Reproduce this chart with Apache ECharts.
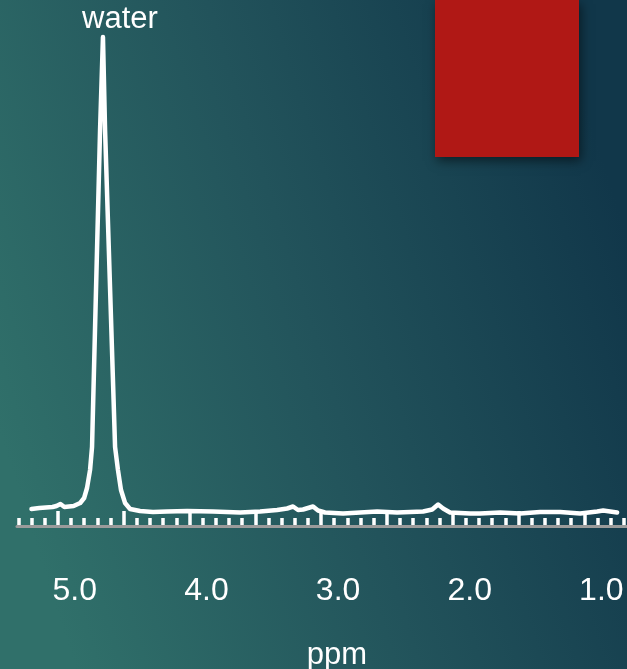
<!DOCTYPE html>
<html>
<head>
<meta charset="utf-8">
<script src="https://cdn.jsdelivr.net/npm/echarts@6/dist/echarts.min.js"></script>
<style>
html,body{margin:0;padding:0;}
#c{width:627px;height:669px;}
</style>
</head>
<body>
<div id="c"></div>
<script>
// chemical shift (ppm) and intensity of the trace
var ppm = [5.20,5.14,5.04,5.01,4.98,4.95,4.88,4.83,4.80,4.778,4.755,4.740,4.679,4.657,4.641,4.565,4.543,4.520,4.489,4.451,4.375,4.277,4.170,4.018,3.821,3.615,3.463,3.334,3.258,3.213,3.175,3.137,3.061,3.023,2.970,2.833,2.574,2.422,2.225,2.156,2.111,2.073,2.020,1.868,1.792,1.640,1.488,1.336,1.184,1.032,0.903,0.857,0.751];
var intensity = [3.5,3.7,3.9,4.1,4.5,3.9,4.1,4.7,5.7,7.7,11.3,15.9,79.3,97.9,79.3,15.9,11.3,7.3,4.7,3.5,3.1,2.9,3.0,3.1,3.0,2.8,3.0,3.3,3.6,4.0,3.3,3.4,4.0,3.2,2.8,2.6,3.0,2.8,3.0,3.4,4.4,3.6,2.8,2.6,2.6,2.8,2.6,2.9,2.9,2.6,3.0,3.2,2.8];
var peakLabel = 'water';
var peakIndex = 13;
var axisName = 'ppm';
var labelTicks = [5.0,4.0,3.0,2.0,1.0];
var majorTicks = [5.0,4.5,4.0,3.5,3.0,2.5,2.0,1.5,1.0];
var minorTicks = [5.3,5.2,5.1,5.0,4.9,4.8,4.7,4.6,4.5,4.4,4.3,4.2,4.1,4.0,3.9,3.8,3.7,3.6,3.5,3.4,3.3,3.2,3.1,3.0,2.9,2.8,2.7,2.6,2.5,2.4,2.3,2.2,2.1,2.0,1.9,1.8,1.7,1.6,1.5,1.4,1.3,1.2,1.1,1.0,0.9,0.8,0.7];
var xLow = 0.60, xHigh = 5.31;

var font = 'Liberation Sans, Arial, sans-serif';
var data = ppm.map(function(p, i){ return [p, intensity[i]]; });

var chart = echarts.init(document.getElementById('c'), null, {renderer:'canvas'});
function baseAxis(extra){
  return Object.assign({type:'value', min:xLow, max:xHigh, inverse:true, gridIndex:0,
    position:'bottom', splitLine:{show:false}}, extra);
}
chart.setOption({
  backgroundColor: new echarts.graphic.LinearGradient(0,0.65,1,0.35,[
    {offset:0,color:'#30706a'},{offset:0.5,color:'#22535b'},{offset:1,color:'#11374a'}]),
  animation:false,
  grid:{left:17, top:26.5, width:620, height:500, outerBoundsMode:'none', containLabel:false},
  xAxis:[
    baseAxis({
      axisLine:{show:true, lineStyle:{color:'#9b9b9b', width:3}},
      axisTick:{show:false},
      axisLabel:{show:true, customValues:labelTicks, color:'#ffffff', fontSize:32, fontFamily:font,
        margin:49, padding:[0,0,0,34], formatter:function(v){return Number(v).toFixed(1);}},
      name:axisName, nameLocation:'middle', nameGap:113,
      nameTextStyle:{color:'#ffffff', fontSize:31, fontFamily:font, padding:[0,0,0,20]}
    }),
    baseAxis({
      offset:-1.5,
      axisLine:{show:false},
      axisLabel:{show:false},
      axisTick:{show:true, inside:true, length:7, customValues:minorTicks, lineStyle:{color:'#ffffff', width:3.5}}
    }),
    baseAxis({
      offset:-1.5,
      axisLine:{show:false},
      axisLabel:{show:false},
      axisTick:{show:true, inside:true, length:14, customValues:majorTicks, lineStyle:{color:'#ffffff', width:3.5}}
    })
  ],
  yAxis:{type:'value', min:0, max:100, show:false, splitLine:{show:false}},
  series:[{
    type:'line', xAxisIndex:0, data:data, showSymbol:false, symbol:'none',
    lineStyle:{color:'#ffffff', width:4.5, join:'round', cap:'round'},
    clip:false, z:5,
    markPoint:{
      symbol:'circle', symbolSize:0, silent:true,
      data:[{coord:[ppm[peakIndex], intensity[peakIndex]], value:peakLabel}],
      label:{show:true, formatter:peakLabel, position:'top', distance:2, offset:[17,0],
        color:'#ffffff', fontSize:31, fontFamily:font}
    }
  }],
  graphic:[{
    type:'rect', left:435, top:0, z:100,
    shape:{width:144, height:157},
    style:{fill:'#b01815', shadowBlur:10, shadowOffsetX:2, shadowOffsetY:4, shadowColor:'rgba(0,0,0,0.5)'}
  }]
});
</script>
</body>
</html>
